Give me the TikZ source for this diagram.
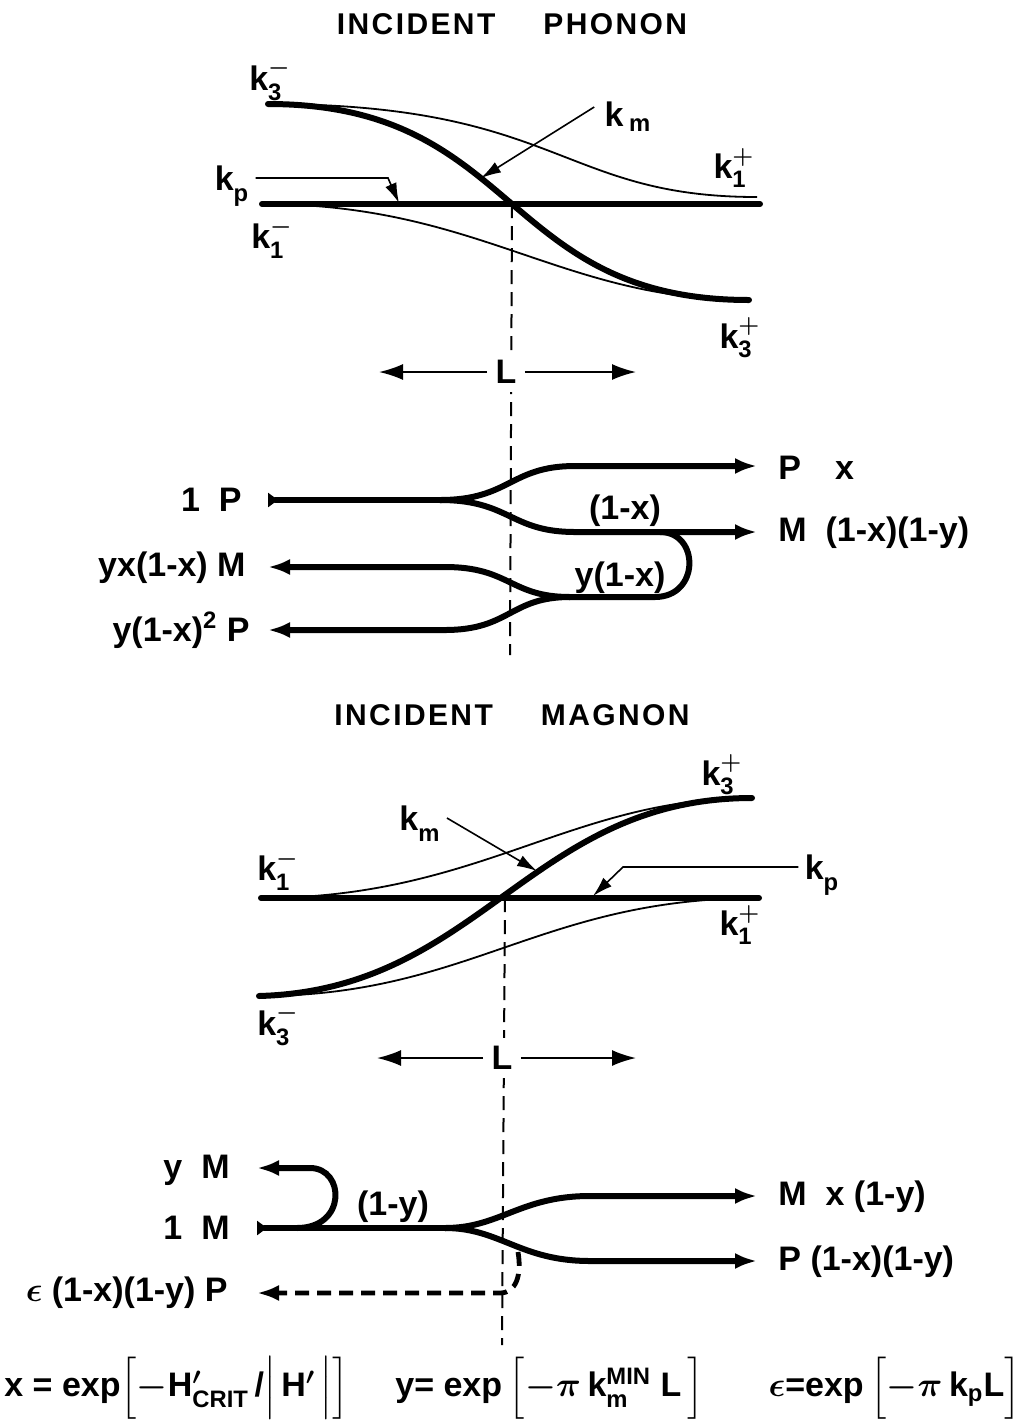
\documentclass[tikz,border=0pt]{standalone}
\usepackage{amsmath}
\usepackage{fontspec}
\setmainfont{Liberation Sans}
\usetikzlibrary{arrows.meta}
\newcommand{\kay}[2]{k$_{\text{#1}}^{#2}$}
\tikzset{
  heavy/.style={line width=3pt,line cap=round},
  fine/.style={line width=0.9pt},
  cut/.style={line width=1pt,dash pattern=on 7pt off 4pt},
  lbl/.style={font=\fontsize{17}{20}\selectfont\bfseries\boldmath,inner sep=3pt},
  title/.style={font=\fontsize{15}{18}\selectfont\bfseries\addfontfeature{LetterSpace=8}},
  formula/.style={font=\fontsize{17}{20}\selectfont\bfseries\boldmath,inner sep=0pt},
  pointer/.style={line width=0.8pt,-{Latex[length=10pt,width=6pt]}},
  span/.style={line width=0.9pt,-{Latex[length=12pt,width=8pt]}},
  flow/.style={heavy,-{Latex[length=11pt,width=8pt]}},
  tailed/.style={heavy,{Triangle[reversed,length=5pt,width=7pt]}-},
  backflow/.style={line width=2.4pt,dash pattern=on 7pt off 4pt,-{Latex[length=11pt,width=8pt]}}
}
\begin{document}
\begin{tikzpicture}[x=0.5pt,y=-0.5pt]
\useasboundingbox (0,0) rectangle (1021,1421);
% incident phonon
\node[title] (phonon) at (512,24) {INCIDENT\hspace{1.6em}PHONON};
\draw[heavy] (262,204) -- (760,204);
\draw[heavy] (268,104) .. controls (520,104) and (500,300) .. (749,300);
\draw[fine] (268,104) .. controls (560,104) and (560,197) .. (757,197);
\draw[fine] (262,204) .. controls (480,204) and (560,300) .. (749,300);
\node[lbl] (k3m1) at (270,80) {\kay{3}{-}};
\node[lbl] (k1m1) at (272,238) {\kay{1}{-}};
\node[lbl] (k1p1) at (734,168) {\kay{1}{+}};
\node[lbl] (k3p1) at (740,338) {\kay{3}{+}};
\node[lbl] (kp1) at (232,186) {\kay{p}{}};
\node[lbl] (km1) at (628,117) {k\,$_{\text{m}}$};
\coordinate (kp1bend) at (388,178);
\coordinate (kp1tip) at (399,203);
\coordinate (km1tip) at (481,178);
\draw[pointer] (kp1.east) ++(0,-8) -- (kp1bend) -- (kp1tip);
\draw[pointer] (km1.west) ++(-4,-10) -- (km1tip);
\draw[cut] (512,204) -- (510,655);
\node[lbl,fill=white,inner sep=4pt] (L1) at (506,372) {L};
\coordinate (L1l) at (379,372);
\coordinate (L1r) at (636,372);
\draw[span] (L1.west) -- (L1l);
\draw[span] (L1.east) -- (L1r);
% phonon flow
\node[lbl,anchor=east] (inP) at (248,500) {1~~P};
\coordinate (inPend) at (268,500);
\coordinate (split1) at (440,500);
\coordinate (outPx) at (757,466);
\coordinate (outM) at (757,532);
\coordinate (merge1) at (570,597);
\coordinate (retM) at (268,567);
\coordinate (retP) at (268,630);
\draw[tailed] (inPend) -- (split1);
\draw[flow] (split1) .. controls (510,500) and (510,466) .. (575,466) -- (outPx);
\draw[flow] (split1) .. controls (510,500) and (510,532) .. (575,532) -- (outM);
\draw[heavy] (660,532) .. controls (700,532) and (700,597) .. (655,597) -- (merge1);
\draw[flow] (merge1) .. controls (510,597) and (510,567) .. (445,567) -- (retM);
\draw[flow] (merge1) .. controls (510,597) and (510,630) .. (445,630) -- (retP);
\node[lbl,anchor=west] (Px) at (772,468) {P\quad x};
\node[lbl,anchor=west] (Mxy) at (772,533) {M~~(1-x)(1-y)};
\node[lbl] (onex) at (625,511) {(1-x)};
\node[lbl] (yonex) at (620,578) {y(1-x)};
\node[lbl,anchor=east] (yxM) at (252,568) {yx(1-x)~M};
\node[lbl,anchor=east] (yxP) at (256,630) {y(1-x)$^{\text{2}}$~P};
% incident magnon
\node[title] (magnon) at (512,715) {INCIDENT\hspace{1.6em}MAGNON};
\draw[heavy] (261,898) -- (759,898);
\draw[heavy] (259,996) .. controls (480,990) and (530,798) .. (752,798);
\draw[fine] (261,898) .. controls (480,898) and (570,798) .. (752,798);
\draw[fine] (259,996) .. controls (470,996) and (540,898) .. (759,898);
\node[lbl] (k3p2) at (722,775) {\kay{3}{+}};
\node[lbl] (k1m2) at (278,870) {\kay{1}{-}};
\node[lbl] (k1p2) at (740,925) {\kay{1}{+}};
\node[lbl] (k3m2) at (278,1025) {\kay{3}{-}};
\node[lbl] (km2) at (420,824) {\kay{m}{}};
\node[lbl] (kp2) at (822,875) {\kay{p}{}};
\coordinate (km2tip) at (537,871);
\coordinate (kp2bend) at (623,867);
\coordinate (kp2tip) at (593,896);
\draw[pointer] (km2.east) ++(0,-6) -- (km2tip);
\draw[pointer] (kp2.west) ++(0,-8) -- (kp2bend) -- (kp2tip);
\draw[cut] (505,898) -- (502,1345);
\node[lbl,fill=white,inner sep=4pt] (L2) at (502,1058) {L};
\coordinate (L2l) at (377,1058);
\coordinate (L2r) at (636,1058);
\draw[span] (L2.west) -- (L2l);
\draw[span] (L2.east) -- (L2r);
% magnon flow
\node[lbl,anchor=east] (yM) at (236,1170) {y~~M};
\node[lbl,anchor=east] (inM) at (236,1228) {1~~M};
\node[lbl,anchor=east] (eps) at (234,1293) {$\epsilon$ (1-x)(1-y) P};
\coordinate (inMend) at (257,1228);
\coordinate (split2) at (445,1228);
\coordinate (outMx) at (757,1196);
\coordinate (outP) at (757,1261);
\coordinate (retyM) at (257,1168);
\coordinate (retEps) at (257,1293);
\draw[tailed] (inMend) -- (split2);
\draw[flow] (297,1228) .. controls (347,1228) and (345,1168) .. (310,1168) -- (retyM);
\draw[flow] (split2) .. controls (500,1228) and (520,1196) .. (590,1196) -- (outMx);
\draw[flow] (split2) .. controls (500,1228) and (520,1261) .. (590,1261) -- (outP);
\draw[backflow] (518,1252) .. controls (522,1275) and (516,1293) .. (500,1293) -- (retEps);
\node[lbl] (oney) at (393,1207) {(1-y)};
\node[lbl,anchor=west] (Mx) at (772,1197) {M~~x~(1-y)};
\node[lbl,anchor=west] (Pxy) at (772,1262) {P~(1-x)(1-y)};
% definitions
\node[formula,anchor=west] (defx) at (4,1388) {x = exp$\Bigl[-$H$'_{\text{CRIT}}$\,/$\Bigl|$\,H$'$\,$\Bigr|\Bigr]$};
\node[formula,anchor=west] (defy) at (395,1388) {y= exp$\,\Bigl[-\pi\,$k$_{\text{m}}^{\text{MIN}}$~L$\,\Bigr]$};
\node[formula,anchor=east] (defe) at (1021,1388) {$\epsilon$=exp$\,\Bigl[-\pi\,$k$_{\text{p}}$L$\Bigr]$};
\end{tikzpicture}
\end{document}
